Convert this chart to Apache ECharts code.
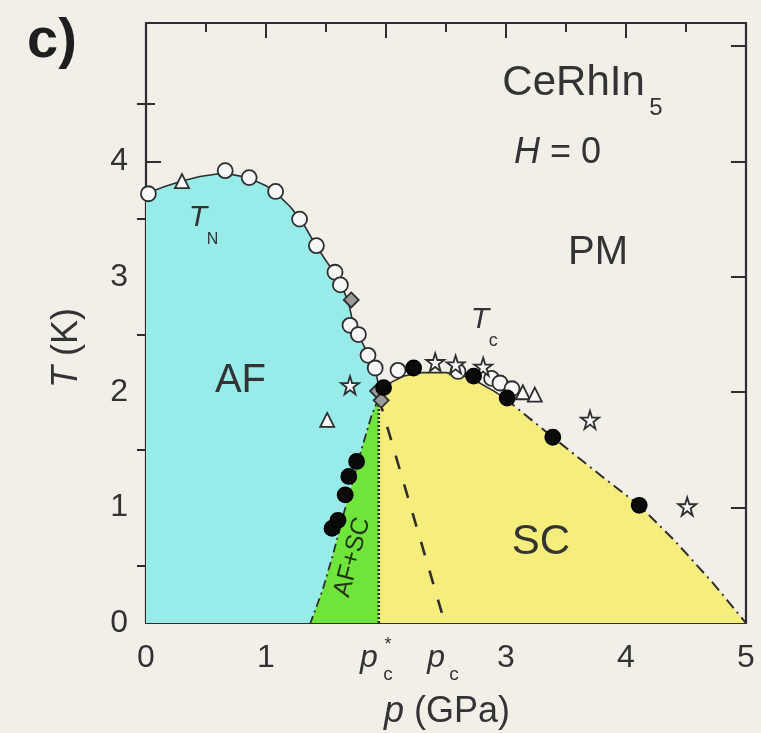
<!DOCTYPE html>
<html>
<head>
<meta charset="utf-8">
<script src="https://cdn.jsdelivr.net/npm/echarts@6/dist/echarts.min.js"></script>
<style>
  html, body { margin: 0; padding: 0; background: #f2efe9; }
  #chart { width: 761px; height: 733px; }
</style>
</head>
<body>
<div id="chart"></div>
<script>
// ---- Phase boundaries of CeRhIn5 at H = 0 (p in GPa, T in K) ----
const tnLine = [[0, 3.72], [0.15, 3.78], [0.3, 3.83], [0.45, 3.87], [0.65, 3.90], [0.85, 3.86],
  [1.0, 3.79], [1.1, 3.71], [1.2, 3.61], [1.3, 3.48], [1.4, 3.30], [1.5, 3.14], [1.58, 3.02],
  [1.64, 2.90], [1.69, 2.77], [1.72, 2.62], [1.77, 2.50], [1.85, 2.33], [1.91, 2.20],
  [1.94, 2.05], [1.94, 1.95]];
const afScBoundary = [[1.94, 1.95], [1.88, 1.80], [1.80, 1.52], [1.72, 1.22], [1.64, 0.92],
  [1.56, 0.60], [1.47, 0.28], [1.37, 0]];
const scDome = [[1.94, 1.95], [1.98, 2.03], [2.05, 2.09], [2.15, 2.14], [2.3, 2.17], [2.5, 2.17],
  [2.65, 2.14], [2.78, 2.08], [2.9, 2.01], [3.0, 1.94]];
const scTail = [[3.0, 1.94], [3.39, 1.61], [3.8, 1.27], [4.11, 1.02], [4.4, 0.72], [4.73, 0.34], [5.0, 0]];
const pcDashed = [[1.94, 1.95], [2.49, 0]];
const pcStarDotted = [[1.94, 0], [1.94, 1.95]];

// ---- Measured transition points ----
const openCircles = [[0.02, 3.72], [0.66, 3.92], [0.86, 3.86], [1.08, 3.74], [1.28, 3.50],
  [1.42, 3.27], [1.575, 3.04], [1.62, 2.93], [1.70, 2.58], [1.77, 2.50], [1.85, 2.32],
  [1.91, 2.21], [2.10, 2.19], [2.60, 2.18], [2.88, 2.12], [2.95, 2.08], [3.05, 2.03]];
const filledCircles = [[1.55, 0.82], [1.60, 0.89], [1.66, 1.11], [1.69, 1.27], [1.755, 1.40],
  [1.98, 2.04], [2.23, 2.21], [2.73, 2.14], [3.01, 1.95], [3.39, 1.61], [4.11, 1.02]];
const openTriangles = [[0.30, 3.83], [1.51, 1.76], [3.14, 2.00], [3.24, 1.98]];
const openStars = [[1.70, 2.06], [2.41, 2.26], [2.58, 2.24], [2.81, 2.22], [3.70, 1.76], [4.51, 1.01]];
const greyDiamonds = [[1.71, 2.80], [1.93, 2.01], [1.96, 1.93]];

// ---- Tick values ----
const xTickLabels = [0, 1, 3, 4, 5];
const yTickLabels = [0, 1, 2, 3, 4];
const yMajorLeft = [0, 1, 2, 3, 4];
const yMajorRight = [0, 1, 2, 3, 4, 5];
const yMinor = [0.5, 1.5, 2.5, 3.5, 4.5];

const FONT = '"Liberation Sans", Arial, Helvetica, sans-serif';
const INK = '#2e2e2e';
const TXT = '#333333';

const chart = echarts.init(document.getElementById('chart'), null, { renderer: 'canvas' });

function region(name, pts, color) {
  return {
    type: 'custom', name: name, silent: true, z: 1,
    data: [[0, 0]],
    renderItem: function (params, api) {
      return {
        type: 'polygon',
        shape: { points: pts.map(function (p) { return api.coord(p); }) },
        style: { fill: color }
      };
    }
  };
}

function boundary(name, pts, type, width) {
  return {
    type: 'line', name: name, data: pts, showSymbol: false, silent: true, z: 3,
    lineStyle: { color: INK, width: width, type: type }
  };
}

const starPath = 'path://M50,2 L61,37 L98,37 L68,59 L79,95 L50,73 L21,95 L32,59 L2,37 L39,37 Z';

function points(name, pts, symbol, size, fill, stroke) {
  return {
    type: 'scatter', name: name, data: pts, symbol: symbol, symbolSize: size, z: 5,
    itemStyle: { color: fill, borderColor: stroke || INK, borderWidth: 1.8, opacity: 1 }
  };
}

function note(p, T, text, size, extra) {
  return {
    value: [p, T],
    label: Object.assign({
      show: true, position: 'inside', formatter: text, opacity: 1,
      textBorderWidth: 0, fontSize: size, color: TXT, fontFamily: FONT
    }, extra || {})
  };
}

const xBase = {
  type: 'value', min: 0, max: 5, interval: 1, gridIndex: 0,
  axisLine: { show: true, onZero: false, lineStyle: { color: INK, width: 2.2 } },
  axisTick: { show: true, inside: true, length: 15, lineStyle: { color: INK, width: 2 } },
  minorTick: { show: true, splitNumber: 2, length: 9, lineStyle: { color: INK, width: 2 } },
  splitLine: { show: false }, minorSplitLine: { show: false }
};

const yBase = {
  type: 'value', min: 0, max: 5.2, interval: 1, gridIndex: 0,
  axisLine: { show: true, onZero: false, lineStyle: { color: INK, width: 2.2 } },
  splitLine: { show: false }
};

const option = {
  backgroundColor: '#f2efe9',
  animation: false,
  grid: { left: 146, right: 15, top: 23, bottom: 110, containLabel: false },
  xAxis: [
    Object.assign({}, xBase, {
      position: 'bottom',
      axisLabel: {
        show: true, margin: 19, fontSize: 32, color: TXT, fontFamily: FONT,
        formatter: function (v) { return xTickLabels.indexOf(v) >= 0 ? String(v) : ''; }
      }
    }),
    Object.assign({}, xBase, { position: 'top', axisLabel: { show: false } })
  ],
  yAxis: [
    Object.assign({}, yBase, {
      position: 'left',
      axisTick: { show: true, inside: true, length: 15, customValues: yMajorLeft, lineStyle: { color: INK, width: 2 } },
      axisLabel: {
        show: true, margin: 18, fontSize: 32, color: TXT, fontFamily: FONT,
        customValues: yTickLabels,
        formatter: function (v) { return yTickLabels.indexOf(v) >= 0 ? String(v) : ''; }
      }
    }),
    Object.assign({}, yBase, {
      position: 'left', axisLine: { show: false },
      axisTick: { show: true, inside: true, length: 9, customValues: yMinor, lineStyle: { color: INK, width: 2 } },
      axisLabel: { show: false }
    }),
    Object.assign({}, yBase, {
      position: 'right',
      axisTick: { show: true, inside: true, length: 15, customValues: yMajorRight, lineStyle: { color: INK, width: 2 } },
      axisLabel: { show: false }
    }),
    Object.assign({}, yBase, {
      position: 'right', axisLine: { show: false },
      axisTick: { show: true, inside: true, length: 9, customValues: yMinor, lineStyle: { color: INK, width: 2 } },
      axisLabel: { show: false }
    })
  ],
  series: [
    region('AF', [[0, 0]].concat(tnLine, afScBoundary), '#97ebe8'),
    region('AF+SC', afScBoundary.concat([[1.94, 0]]), '#6fe53c'),
    region('SC', [[1.94, 0]].concat(scDome, scTail.slice(1)), '#f6ee7c'),

    boundary('TN', tnLine, 'solid', 1.6),
    boundary('Tc dome', scDome, 'solid', 1.6),
    boundary('Tc tail', scTail, [11, 5, 2, 5], 2),
    boundary('AF/AF+SC', afScBoundary, [9, 4, 2, 4], 1.8),
    boundary('pc', pcDashed, [14, 16], 2.6),
    boundary('pc*', pcStarDotted, [2, 2], 2.6),

    points('open circles', openCircles, 'circle', 15, '#f7f7f7'),
    points('grey diamonds', greyDiamonds, 'diamond', 15, '#9a9a9a'),
    points('open triangles', openTriangles, 'triangle', 14, '#f7f7f7'),
    points('open stars', openStars, starPath, 18, '#f7f7f7'),
    points('filled circles', filledCircles, 'circle', 15, '#0a0a0a', '#000000'),

    {
      type: 'scatter', name: 'labels', symbol: 'circle', symbolSize: 1, silent: true, clip: false, z: 10,
      itemStyle: { color: 'rgba(0,0,0,0)' },
      data: [
        note(3.563, 4.68, 'CeRhIn', 42),
        note(4.25, 4.459, '5', 24),
        note(3.43, 4.07, '{i|H} = 0', 36, { rich: { i: { fontStyle: 'italic', fontSize: 36, color: TXT, fontFamily: FONT } } }),
        note(3.767, 3.21, 'PM', 40),
        note(0.433, 3.51, 'T', 30, { fontStyle: 'italic' }),
        note(0.554, 3.32, 'N', 16),
        note(2.783, 2.63, 'T', 30, { fontStyle: 'italic' }),
        note(2.894, 2.44, 'c', 18),
        note(0.7875, 2.098, 'AF', 40),
        note(3.29, 0.696, 'SC', 42),
        note(1.72, 0.57, 'AF+SC', 25, { rotate: 75, color: '#243418' }),
        // pressure markers under the axis
        note(1.858, -0.30, 'p', 32, { fontStyle: 'italic' }),
        note(2.017, -0.19, '*', 18),
        note(2.017, -0.45, 'c', 19),
        note(2.417, -0.30, 'p', 32, { fontStyle: 'italic' }),
        note(2.567, -0.45, 'c', 19)
      ]
    }
  ],
  graphic: [
    {
      type: 'text', left: 27, top: 14,
      style: { text: 'c)', font: 'bold 56px ' + FONT, fill: '#1e1e1e' }
    },
    {
      type: 'text', x: 67, y: 348, rotation: Math.PI / 2,
      style: {
        text: '{i|T} (K)', font: '36px ' + FONT, fill: TXT, align: 'center', verticalAlign: 'middle',
        rich: { i: { fontStyle: 'italic', fontSize: 36, fontFamily: FONT, fill: TXT } }
      }
    },
    {
      type: 'text', x: 447, y: 712,
      style: {
        text: '{i|p} (GPa)', font: '36px ' + FONT, fill: TXT, align: 'center', verticalAlign: 'middle',
        rich: { i: { fontStyle: 'italic', fontSize: 36, fontFamily: FONT, fill: TXT } }
      }
    }
  ]
};

chart.setOption(option);
</script>
</body>
</html>
